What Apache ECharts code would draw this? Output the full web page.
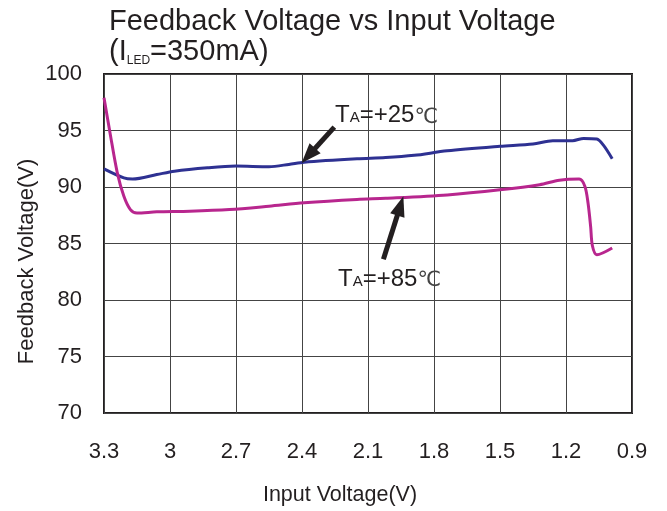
<!DOCTYPE html>
<html>
<head>
    <meta charset="utf-8">
    <title>Feedback Voltage vs Input Voltage</title>
    <script src="https://cdn.jsdelivr.net/npm/echarts@6/dist/echarts.min.js"></script>
    <style>
        html, body { margin: 0; padding: 0; background: #fff; }
        #main { width: 667px; height: 511px; }
    </style>
</head>
<body>
    <div id="main"></div>
    <script type="text/javascript">
        // input voltage (V) / feedback voltage
        var vin25 = [3.30, 3.21, 3.17, 3.06, 2.98, 2.83, 2.70, 2.55, 2.46, 2.39, 2.15, 2.02, 1.89, 1.74, 1.50, 1.35, 1.26, 1.17, 1.12, 1.06, 1.03, 0.99];
        var vfb25 = [91.6, 90.8, 90.7, 91.1, 91.4, 91.7, 91.85, 91.8, 92.0, 92.2, 92.5, 92.6, 92.8, 93.2, 93.6, 93.8, 94.1, 94.1, 94.3, 94.25, 93.7, 92.5];

        var vin85 = [3.30, 3.27, 3.24, 3.21, 3.18, 3.15, 3.06, 2.91, 2.73, 2.55, 2.39, 2.15, 2.02, 1.74, 1.50, 1.32, 1.23, 1.14, 1.114, 1.10, 1.088, 1.08, 1.06, 0.99];
        var vfb85 = [97.9, 94.5, 91.3, 89.2, 88.0, 87.7, 87.8, 87.85, 88.0, 88.3, 88.6, 88.9, 89.0, 89.3, 89.75, 90.2, 90.6, 90.7, 90.05, 88.6, 86.5, 84.8, 84.0, 84.6];

        // annotation arrows: [tail, head centre] in data coords
        var arrow25 = [[2.253, 95.3], [2.371, 92.77]];
        var arrow85 = [[2.030, 83.6], [1.953, 88.33]];

        function pairs(xs, ys) {
            return xs.map(function (x, i) { return [x, ys[i]]; });
        }

        var myChart = echarts.init(document.getElementById('main'));

        var font = 'Liberation Sans, Arial, sans-serif';
        var ink = '#231f20';

        function arrowLine(seg) {
            return {
                silent: true,
                symbol: ['none', 'triangle'],
                symbolSize: [15, 20],
                label: { show: false },
                lineStyle: { color: ink, width: 5, type: 'solid' },
                itemStyle: { color: ink },
                data: [[{ coord: seg[0] }, { coord: seg[1] }]]
            };
        }

        myChart.setOption({
            animation: false,
            textStyle: { fontFamily: font, color: ink },
            title: {
                left: 104,
                top: 2,
                text: '{a|Feedback Voltage vs Input Voltage}\n{a|(I}{s|LED}{a|=350mA)}',
                textStyle: {
                    fontWeight: 'normal',
                    rich: {
                        a: { fontSize: 29, fontFamily: font, color: ink, lineHeight: 30 },
                        s: { fontSize: 12, fontFamily: font, color: ink, lineHeight: 30, verticalAlign: 'bottom', padding: [12, 0, 0, 0] }
                    }
                }
            },
            grid: {
                left: 104,
                right: 35,
                top: 74,
                bottom: 96,
                show: true,
                borderColor: ink,
                borderWidth: 2
            },
            xAxis: {
                type: 'value',
                inverse: true,
                min: 0.9,
                max: 3.3,
                interval: 0.3,
                name: 'Input Voltage(V)',
                nameLocation: 'middle',
                nameGap: 71,
                nameTextStyle: { fontSize: 21.5, color: ink, padding: [0, 56, 0, 0] },
                axisLine: { show: false },
                axisTick: { show: false },
                axisLabel: {
                    fontSize: 22,
                    color: ink,
                    margin: 28,
                    formatter: function (v) { return String(parseFloat(v.toFixed(1))); }
                },
                splitLine: { lineStyle: { color: '#444', width: 1 } }
            },
            yAxis: {
                type: 'value',
                min: 70,
                max: 100,
                interval: 5,
                name: 'Feedback Voltage(V)',
                nameLocation: 'middle',
                nameGap: 66,
                nameMoveOverlap: false,
                nameTextStyle: { fontSize: 22, color: ink, padding: [0, 0, 0, -36] },
                axisLine: { show: false },
                axisTick: { show: false },
                axisLabel: { fontSize: 22, color: ink, margin: 22 },
                splitLine: { lineStyle: { color: '#444', width: 1 } }
            },
            series: [
                {
                    name: 'TA=+25',
                    type: 'line',
                    data: pairs(vin25, vfb25),
                    showSymbol: false,
                    smooth: 0.3,
                    lineStyle: { color: '#2e3192', width: 3 },
                    markLine: arrowLine(arrow25)
                },
                {
                    name: 'TA=+85',
                    type: 'line',
                    data: pairs(vin85, vfb85),
                    showSymbol: false,
                    smooth: 0.3,
                    lineStyle: { color: '#b8268e', width: 3 },
                    markLine: arrowLine(arrow85)
                }
            ]
        });

        // annotation labels positioned from data coords (left edge, bottom)
        function tLabel(text, at) {
            var p = myChart.convertToPixel({ gridIndex: 0 }, at);
            return {
                type: 'text',
                x: p[0],
                y: p[1],
                style: {
                    text: '{t|T}{a|A}{t|=+' + text + '}{c|℃}',
                    verticalAlign: 'bottom',
                    rich: {
                        t: { fontSize: 24, fontFamily: font, fill: ink, verticalAlign: 'bottom' },
                        a: { fontSize: 15, fontFamily: font, fill: ink, verticalAlign: 'bottom', padding: [0, 0, 2, 0] },
                        c: { fontSize: 21, fontFamily: 'DejaVu Sans', fill: '#444', verticalAlign: 'bottom' }
                    }
                }
            };
        }

        myChart.setOption({
            graphic: [
                tLabel('25', [2.25, 95.24]),
                tLabel('85', [2.236, 80.76])
            ]
        });
    </script>
</body>
</html>
